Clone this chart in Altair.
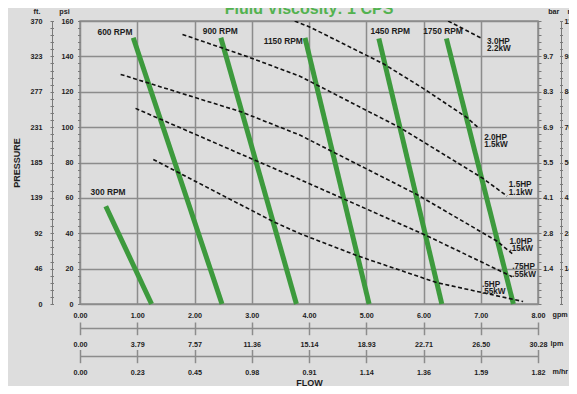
import json
import altair as alt
import pandas as pd

# ---------------- data ----------------
chart_title = "Fluid Viscosity: 1 CPS"

rpm_names = ["300 RPM", "600 RPM", "900 RPM", "1150 RPM", "1450 RPM", "1750 RPM"]
rpm_top_flow = [0.45, 0.93, 2.46, 3.93, 5.22, 6.40]
rpm_top_psi = [55.3, 150.5, 150.5, 150.5, 150.1, 150.1]
rpm_end_flow = [1.25, 2.48, 3.78, 5.05, 6.32, 7.57]
rpm_end_psi = [0, 0, 0, 0, 0, 0]
rpm_label_flow = [0.49, 0.61, 2.45, 3.55, 5.42, 6.34]
rpm_label_psi = [63.1, 153.5, 154.6, 148.9, 154.2, 154.5]

hp_names = ["3.0HP\n2.2kW", "2.0HP\n1.5kW", "1.5HP\n1.1kW",
            "1.0HP\n.15kW", ".75HP\n.55kW", ".5HP\n.55kW"]
hp_flow = [
    [6.43, 7.02],
    [3.75, 4.02, 5.04, 5.30, 6.00, 6.75, 6.97],
    [1.79, 2.91, 3.84, 5.59, 7.02, 7.46],
    [0.71, 2.81, 3.84, 5.88, 7.28, 7.55],
    [0.97, 3.09, 3.84, 6.03, 7.55],
    [1.28, 3.38, 3.84, 4.86, 6.23, 7.74],
]
hp_psi = [
    [160.0, 150.1],
    [160.0, 156.5, 140.0, 135.8, 121.8, 105.6, 99.3],
    [152.4, 140.0, 128.8, 99.7, 71.4, 61.0],
    [129.8, 108.7, 95.5, 62.0, 35.6, 28.5],
    [110.6, 80.8, 70.4, 39.0, 15.4],
    [81.7, 46.5, 39.8, 27.1, 12.1, 1.4],
]
hp_label_flow = [7.11, 7.06, 7.49, 7.50, 7.55, 7.02]
hp_label_psi = [148.3, 94.0, 67.3, 35.3, 20.7, 10.8]

gpm_values = [0, 1, 2, 3, 4, 5, 6, 7, 8]
lpm_labels = ["0.00", "3.79", "7.57", "11.36", "15.14", "18.93", "22.71", "26.50", "30.28"]
mhr_labels = ["0.00", "0.23", "0.45", "0.98", "0.91", "1.14", "1.36", "1.59", "1.82"]
psi_values = [0, 20, 40, 60, 80, 100, 120, 140, 160]
psi_minor = list(range(0, 161, 4))
ft_labels = ["0", "46", "92", "139", "185", "231", "277", "323", "370"]
bar_values = [20, 40, 60, 80, 100, 120, 140]
bar_labels = ["1.4", "2.8", "4.1", "5.5", "6.9", "8.3", "9.7"]
m_values = [20, 40, 60, 80, 100, 120, 140, 160]
m_labels = ["14", "28", "42", "56", "70", "84", "98", "113"]

# ---------------- tables ----------------
rpm_rows = []
for i, n in enumerate(rpm_names):
    rpm_rows.append({"rpm": n, "flow": rpm_top_flow[i], "psi": rpm_top_psi[i], "k": 0})
    rpm_rows.append({"rpm": n, "flow": rpm_end_flow[i], "psi": rpm_end_psi[i], "k": 1})
rpm_df = pd.DataFrame(rpm_rows)

hp_rows = []
for i, n in enumerate(hp_names):
    for j, (f, p) in enumerate(zip(hp_flow[i], hp_psi[i])):
        hp_rows.append({"hp": n, "flow": f, "psi": p, "k": j})
hp_df = pd.DataFrame(hp_rows)

rpm_lab_df = pd.DataFrame({"rpm": rpm_names, "flow": rpm_label_flow, "psi": rpm_label_psi})
hp_lab_df = pd.DataFrame({"hp": hp_names, "flow": hp_label_flow, "psi": hp_label_psi})
title_df = pd.DataFrame({"t": [chart_title]})
dummy = pd.DataFrame({"flow": [0], "psi": [0]})

# ---------------- styles ----------------
FONT = "Liberation Sans"
INK = "#1c1c1c"
GRID = "#8c8c8c"
TICK = "#7a7a7a"
GREEN = "#3d9a3d"
TITLE_GREEN = "#52b24f"
BG = "#dddddd"

xs = alt.Scale(domain=[0, 8], nice=False, zero=False)
ys = alt.Scale(domain=[0, 160], nice=False, zero=False)


def ax(**kw):
    base = dict(labelFont=FONT, labelFontWeight="bold", labelFontSize=7.2, labelColor=INK,
                labelFlush=False, labelOverlap=False, labelBound=False,
                domain=False, ticks=False, grid=False,
                titleFont=FONT, titleFontWeight="bold", titleFontSize=7.2,
                titleColor=INK, titleAngle=0, titlePadding=0)
    base.update(kw)
    return alt.Axis(**base)


def expr(lst, div, shift=0):
    return f"{json.dumps(lst)}[round(datum.value/{div})-{shift}]"


gpm_axis = ax(orient="bottom", values=gpm_values, format=".2f", grid=True,
              gridColor=GRID, gridWidth=1.5, labelPadding=7,
              title="gpm", titleX=472, titleY=12, titleAlign="left",
              titleBaseline="alphabetic")
psi_axis = ax(orient="left", values=psi_values, format="d", grid=True,
              gridColor=GRID, gridWidth=1.5, labelPadding=7,
              title="psi", titleX=-16, titleY=-7.5, titleAlign="center",
              titleBaseline="alphabetic")
psi_minor_axis = ax(orient="left", values=psi_minor, ticks=True, tickSize=2.5,
                    tickColor=TICK, tickWidth=1, labels=False, title=None)
lpm_axis = ax(orient="bottom", offset=24, values=gpm_values,
              labelExpr=expr(lpm_labels, 1), domain=True, domainColor=GRID,
              domainWidth=1.5, labelPadding=12.5, title="lpm", titleX=470,
              titleY=17.5, titleAlign="left", titleBaseline="alphabetic")
lpm_ticks = ax(orient="bottom", offset=18, values=gpm_values, ticks=True,
               tickSize=12.7, tickColor=GRID, tickWidth=1.5, labels=False, title=None)
ft_axis = ax(orient="left", offset=28, values=psi_values, labelExpr=expr(ft_labels, 20),
             domain=True, domainColor=TICK, domainWidth=1, labelPadding=10,
             title="ft.", titleX=-15.5, titleY=-7.5, titleAlign="center",
             titleBaseline="alphabetic")
ft_ticks = ax(orient="left", offset=26.5, values=psi_minor, ticks=True, tickSize=3.5,
              tickColor=TICK, tickWidth=1, labels=False,
              title="PRESSURE", titleAngle=270, titleFontSize=9, titleX=-37.5,
              titleY=141.5, titleAlign="center", titleBaseline="middle")
mhr_axis = ax(orient="bottom", offset=52, values=gpm_values,
              labelExpr=expr(mhr_labels, 1), domain=True, domainColor=GRID,
              domainWidth=1.5, labelPadding=12.5, title="m/hr", titleX=472,
              titleY=17.5, titleAlign="left", titleBaseline="alphabetic")
mhr_ticks = ax(orient="bottom", offset=45.5, values=gpm_values, ticks=True,
               tickSize=13.2, tickColor=GRID, tickWidth=1.5, labels=False,
               title="FLOW", titleFontSize=9, titleX=229, titleY=35.5,
               titleAlign="center", titleBaseline="alphabetic")
bar_axis = ax(orient="right", values=bar_values, labelExpr=expr(bar_labels, 20, 1),
              labelPadding=4.7, title="bar", titleX=15.3, titleY=-7.5,
              titleAlign="center", titleBaseline="alphabetic")
bar_ticks = ax(orient="right", values=psi_minor, ticks=True, tickSize=3,
               tickColor=TICK, tickWidth=1, labels=False, title=None)
m_axis = ax(orient="right", offset=23, values=m_values, labelExpr=expr(m_labels, 20, 1),
            domain=True, domainColor=TICK, domainWidth=1, labelPadding=3,
            title="m", titleX=6, titleY=-7.5, titleAlign="left",
            titleBaseline="alphabetic")
m_ticks = ax(orient="right", offset=21.5, values=psi_minor, ticks=True, tickSize=3,
             tickColor=TICK, tickWidth=1, labels=False, title=None)

# ---------------- layers ----------------
green = alt.Chart(rpm_df).mark_line(color=GREEN, strokeWidth=5, strokeCap="butt").encode(
    x=alt.X("flow:Q", scale=xs, axis=gpm_axis),
    y=alt.Y("psi:Q", scale=ys, axis=psi_axis),
    detail="rpm:N", order="k:Q")

dashed = alt.Chart(hp_df).mark_line(color="#111111", strokeWidth=1.6,
                                    strokeDash=[4, 2.5], clip=True).encode(
    x=alt.X("flow:Q", scale=xs, axis=lpm_axis),
    y=alt.Y("psi:Q", scale=ys, axis=psi_minor_axis),
    detail="hp:N", order="k:Q")

rpm_text = alt.Chart(rpm_lab_df).mark_text(font=FONT, fontWeight="bold", fontSize=8.4,
                                           color=INK, align="center", baseline="middle").encode(
    x=alt.X("flow:Q", scale=xs, axis=lpm_ticks),
    y=alt.Y("psi:Q", scale=ys, axis=ft_axis),
    text="rpm:N")

hp_text = alt.Chart(hp_lab_df).mark_text(font=FONT, fontWeight="bold", fontSize=8.2,
                                         color=INK, align="left", baseline="middle",
                                         lineBreak="\n", lineHeight=7.6).encode(
    x=alt.X("flow:Q", scale=xs, axis=mhr_axis),
    y=alt.Y("psi:Q", scale=ys, axis=ft_ticks),
    text="hp:N")

title_text = alt.Chart(title_df).mark_text(font=FONT, fontWeight="bold", fontSize=16,
                                           color=TITLE_GREEN, align="center",
                                           baseline="alphabetic").encode(
    x=alt.X(datum=4, scale=xs, axis=None),
    y=alt.value(-7),
    text="t:N")

d5 = alt.Chart(dummy).mark_point(opacity=0).encode(
    x=alt.X("flow:Q", scale=xs, axis=mhr_ticks),
    y=alt.Y("psi:Q", scale=ys, axis=bar_axis))
d6 = alt.Chart(dummy).mark_point(opacity=0).encode(
    x=alt.X("flow:Q", scale=xs, axis=None),
    y=alt.Y("psi:Q", scale=ys, axis=bar_ticks))
d7 = alt.Chart(dummy).mark_point(opacity=0).encode(
    x=alt.X("flow:Q", scale=xs, axis=None),
    y=alt.Y("psi:Q", scale=ys, axis=m_axis))
d8 = alt.Chart(dummy).mark_point(opacity=0).encode(
    x=alt.X("flow:Q", scale=xs, axis=None),
    y=alt.Y("psi:Q", scale=ys, axis=m_ticks))

chart = alt.layer(green, dashed, rpm_text, hp_text, title_text, d5, d6, d7, d8).resolve_axis(
    x="independent", y="independent"
).properties(
    width=458, height=283,
    padding={"left": 72, "top": 13, "right": 31, "bottom": 82},
    autosize=alt.AutoSizeParams(type="none"),
    background=BG,
).configure_view(stroke=GRID, strokeWidth=1.5)

chart.save("out.html", embed_options={"renderer": "svg", "actions": False})
